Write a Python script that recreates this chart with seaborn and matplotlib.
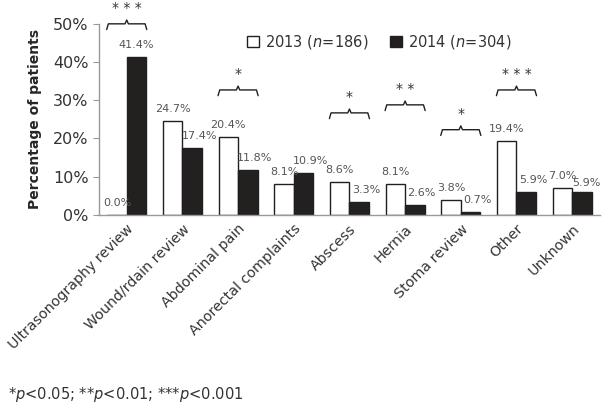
import pandas as pd
import seaborn as sns
import matplotlib.pyplot as plt
from matplotlib.patches import Patch

categories = ["Ultrasonography review", "Wound/rdain review", "Abdominal pain",
              "Anorectal complaints", "Abscess", "Hernia", "Stoma review",
              "Other", "Unknown"]
pct_2013 = [0.0, 24.7, 20.4, 8.1, 8.6, 8.1, 3.8, 19.4, 7.0]
pct_2014 = [41.4, 17.4, 11.8, 10.9, 3.3, 2.6, 0.7, 5.9, 5.9]
# significance brackets: category index, stars, bracket height (%)
sig_idx = [0, 2, 4, 5, 6, 7]
sig_stars = ["* * *", "*", "*", "* *", "*", "* * *"]
sig_height = [50.0, 32.7, 26.7, 28.8, 22.3, 32.7]

df = pd.DataFrame({
    "category": categories * 2,
    "pct": pct_2013 + pct_2014,
    "year": ["2013"] * len(categories) + ["2014"] * len(categories),
})

sns.set_style("white")
plt.rcParams["font.family"] = ["DejaVu Sans"]

fig = plt.figure(figsize=(6.03, 4.04), dpi=100)
ax = fig.add_axes([0.164, 0.468, 0.831, 0.473])

sns.barplot(data=df, x="category", y="pct", hue="year",
            palette={"2013": "white", "2014": "#231f20"},
            width=0.7, edgecolor="#231f20", linewidth=1.0,
            legend=False, ax=ax)

ax.set_xlim(-0.5, len(categories) - 0.5)
ax.set_ylim(0, 50)
ax.set_yticks([0, 10, 20, 30, 40, 50])
ax.set_yticklabels([f"{v}%" for v in range(0, 51, 10)], fontsize=11.5, color="#333333")
ax.set_xticks(range(len(categories)))
ax.set_xticklabels(categories, rotation=45, ha="right", rotation_mode="anchor",
                   fontsize=10.3, color="#333333")
ax.set_xlabel("")
ax.set_ylabel("Percentage of patients", fontsize=10, fontweight="bold", labelpad=8)
ax.tick_params(axis="y", length=4, color="#999999", left=True)
ax.tick_params(axis="x", length=0, pad=5)
sns.despine(ax=ax)
for s in ["left", "bottom"]:
    ax.spines[s].set_color("#999999")
    ax.spines[s].set_linewidth(1.0)

# value labels
half = 0.175
for i in range(len(categories)):
    ax.annotate(f"{pct_2013[i]:.1f}%", (i - half, pct_2013[i]), xytext=(0, 5),
                textcoords="offset points", ha="center", va="bottom",
                fontsize=8, color="#555555")
    dx = 0 if i == 0 else (3 if i == 8 else 5)
    dy = 3 if i == 8 else 5
    ax.annotate(f"{pct_2014[i]:.1f}%", (i + half, pct_2014[i]), xytext=(dx, dy),
                textcoords="offset points", ha="center", va="bottom",
                fontsize=8, color="#555555")

# curly brackets with stars
for idx, stars, h in zip(sig_idx, sig_stars, sig_height):
    x0, x1 = idx - 0.36, idx + 0.36
    xc = idx
    xs = [x0, x0 + 0.03, xc - 0.03, xc, xc + 0.03, x1 - 0.03, x1]
    ys = [h - 1.5, h, h, h + 1.0, h, h, h - 1.5]
    ax.plot(xs, ys, color="#231f20", lw=1.0, clip_on=False)
    ax.text(xc, h + 2.3, stars, ha="center", va="bottom", fontsize=10,
            color="#333333", clip_on=False)

# legend
handles = [Patch(facecolor="white", edgecolor="#231f20", label="2013 ($\\mathit{n}$=186)"),
           Patch(facecolor="#231f20", edgecolor="#231f20", label="2014 ($\\mathit{n}$=304)")]
ax.legend(handles=handles, loc="upper left", bbox_to_anchor=(0.27, 1.02), ncol=2,
          frameon=False, fontsize=10.5, handlelength=0.8, handleheight=0.8,
          handletextpad=0.4, columnspacing=1.5, labelcolor="#333333")

fig.text(0.013, 0.012, "*$\\mathit{p}$<0.05; **$\\mathit{p}$<0.01; ***$\\mathit{p}$<0.001",
         fontsize=10.5, color="#333333")

fig.savefig("out.png", dpi=100)
